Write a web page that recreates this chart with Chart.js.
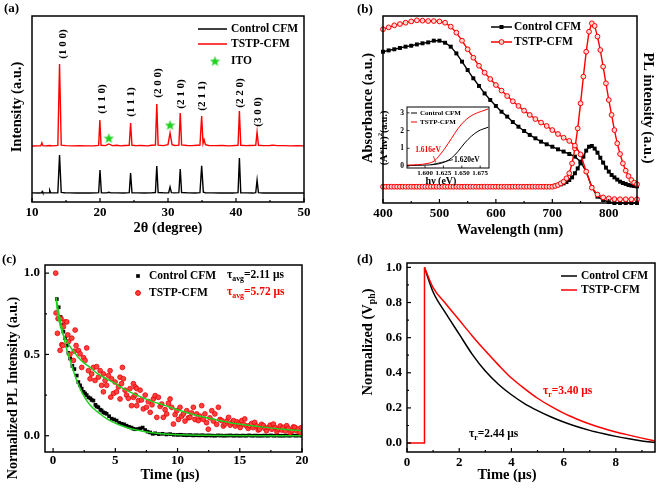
<!DOCTYPE html>
<html><head><meta charset="utf-8">
<script src="https://cdn.jsdelivr.net/npm/chart.js@4.4.1/dist/chart.umd.min.js"></script>
<style>
html,body{margin:0;padding:0;background:#fff}
body{position:relative;width:660px;height:489px;overflow:hidden}
canvas{position:absolute}
</style></head><body>
<canvas id="ca" width="330" height="245" style="left:0;top:0"></canvas>
<canvas id="cb" width="330" height="245" style="left:330px;top:0"></canvas>
<canvas id="cbi" width="130" height="92" style="left:378px;top:98px"></canvas>
<canvas id="cc" width="330" height="244" style="left:0;top:245px"></canvas>
<canvas id="cd" width="330" height="244" style="left:330px;top:245px"></canvas>
<script>
// ================= DATA =================
// (a) XRD
const xrdTicks = [10,20,30,40,50];
const xrdMinor = [15,25,35,45];
const ctrlXrdAngle = [10,11,11.4,11.5,11.6,12.0,12.5,12.6,12.75,13.0,13.8,14.05,14.3,14.8,15.5,16.5,17.5,18.5,19.5,19.8,20.0,20.2,21,21.3,21.6,22.5,23.5,24.3,24.5,24.7,25.5,26.5,27.5,28.15,28.35,28.55,29.5,30.1,30.3,30.5,31.0,31.6,31.8,32.0,33,34,34.7,34.95,35.2,35.5,36.5,37.5,38.5,39.5,40.3,40.5,40.7,41.5,42.5,42.9,43.1,43.3,44,45,46,47,48,49,50];
const ctrlXrdInt = [4.9,4.8,4.9,5.6,4.9,4.9,5.0,6.3,5.0,4.9,5.0,25.3,5.2,5.0,4.9,4.8,4.9,4.8,4.9,5.0,17.2,5.0,4.9,5.2,4.9,4.9,4.8,5.0,15.6,5.0,4.9,4.8,4.9,5.1,19.4,5.1,4.9,5.0,8.1,5.0,4.9,5.0,17.7,5.1,4.9,4.8,5.0,19.4,5.3,5.0,4.9,4.8,4.9,4.8,5.0,23.7,5.0,4.9,4.8,5.0,11.8,5.0,4.8,4.9,4.8,4.8,4.9,4.8,4.8];
const tstpXrdAngle = [10,11,11.3,11.45,11.6,12,12.6,13,13.8,14.05,14.3,15,16,17,18,19,19.8,19.98,20.15,20.8,21.3,21.8,22.5,23,23.6,24.3,24.5,24.7,25.3,26,27,27.6,28.15,28.35,28.55,29.3,30.0,30.3,30.6,31.0,31.6,31.8,32.0,32.8,33.5,34.3,34.7,34.95,35.15,35.3,35.5,36,37,38,39,40.3,40.5,40.7,41.5,42,42.9,43.1,43.3,44,45,45.5,46,47,48,49,50];
const tstpXrdInt = [30.1,30.2,30.2,31.8,30.3,30.2,30.4,30.2,30.4,74.2,30.6,30.3,30.2,30.3,30.2,30.2,30.4,44.1,30.5,30.3,31.2,30.3,30.5,30.2,30.4,30.5,42.5,30.5,30.3,30.4,30.2,30.5,30.6,52.7,30.6,30.3,30.8,37.1,30.8,30.4,30.6,47.8,30.7,30.4,30.3,30.5,30.6,46.2,31.5,33.5,30.8,30.4,30.3,30.4,30.2,30.5,48.9,30.5,30.3,30.4,30.5,37.6,30.5,30.3,30.4,30.6,30.3,30.3,30.2,30.3,30.2];
const itoAngle = [21.3, 30.3];
const itoLevel = [34.4, 41.4];
const peakLabels = ['(1 0 0)','(1 1 0)','(1 1 1)','(2 0 0)','(2 1 0)','(2 1 1)','(2 2 0)','(3 0 0)'];

// (b) absorbance & PL
const wlTicks = [400,500,600,700,800];
const wlMinor = [450,550,650,750];
const wlAbs = [400,410,420,430,440,450,460,470,480,490,500,510,520,530,540,550,560,570,580,590,600,610,620,630,640,650,660,670,680,690,700,710,720,730,740,750,760,770,780,790,800,810,820,830,840,850];
const ctrlAbs = [80.9,81.6,82.2,82.9,83.6,84.1,84.8,85.4,85.9,86.8,86.8,85.7,83.6,80.0,75.6,71.1,66.7,62.6,58.6,55.1,51.9,48.8,46.2,43.3,40.8,38.5,36.4,34.6,32.8,31.4,30.1,28.7,27.5,26.2,24.8,22.1,16.8,8.4,3.4,1.6,0.5,0,0,0,0,0];
const tstpAbs = [92.9,93.9,95.0,95.7,96.4,97.1,97.7,97.5,97.3,97.3,97.1,96.4,94.3,91.1,86.8,82.2,77.7,73.4,69.7,66.3,63.1,60.1,57.2,54.4,51.9,49.4,47.1,44.9,43.0,41.2,39.0,36.9,34.9,33.2,30.7,26.0,16.8,8.2,4.5,3.0,2.5,2.1,2.0,2.0,2.0,2.0];
const wlPL = [400,405,410,415,420,425,430,435,440,445,450,455,460,465,470,475,480,485,490,495,500,505,510,515,520,525,530,535,540,545,550,555,560,565,570,575,580,585,590,595,600,605,610,615,620,625,630,635,640,645,650,655,660,665,670,675,680,685,690,695,700,705,710,715,720,725,730,735,740,745,750,755,760,765,770,775,780,785,790,795,800,805,810,815,820,825,830,835,840,845,850];
const ctrlPL = [8.7,8.7,8.7,8.7,8.7,8.7,8.7,8.7,8.7,8.7,
  8.7,8.7,8.7,8.7,8.7,8.7,8.7,8.7,8.7,8.7,
  8.7,8.7,8.7,8.7,8.7,8.7,8.7,8.7,8.7,8.7,
  8.7,8.7,8.7,8.7,8.7,8.7,8.7,8.7,8.7,8.7,
  8.7,8.7,8.7,8.7,8.7,8.7,8.7,8.7,8.7,8.7,
  8.7,8.7,8.7,8.7,8.7,8.7,8.7,8.7,8.7,
  8.9,9.1,9.3,9.6,10.0,10.5,11.2,12.3,13.7,15.9,18.5,21.2,24.8,28.0,30.1,30.5,29.1,26.9,24.2,21.6,18.9,16.8,15.0,13.7,12.5,11.4,10.7,10.2,9.6,9.3,9.1,8.9];
const tstpPL = [8.7,8.7,8.7,8.7,8.7,8.7,8.7,8.7,8.7,8.7,
  8.7,8.7,8.7,8.7,8.7,8.7,8.7,8.7,8.7,8.7,
  8.7,8.7,8.7,8.7,8.7,8.7,8.7,8.7,8.7,8.7,
  8.7,8.7,8.7,8.7,8.7,8.7,8.7,8.7,8.7,8.7,
  8.7,8.7,8.7,8.7,8.7,8.7,8.7,8.7,8.7,8.7,
  8.7,8.7,8.7,8.7,8.7,8.7,8.7,8.7,8.7,8.7,8.7,
  9.1,9.6,10.5,11.4,13.2,15.9,21.2,29.2,39.9,53.3,67.6,80.9,91.6,96.1,94.7,89.0,81.8,72.9,64.0,55.1,47.1,39.0,31.9,26.2,21.2,17.3,14.4,12.3,10.9,10.0];
// (b) inset Tauc plot
const insetETicks = [1.600,1.625,1.650,1.675];
const insetYTicks = [0,1,2,3];
const tstpE = [1.5755,1.590,1.604,1.613,1.620,1.627,1.636,1.645,1.654,1.6655,1.677,1.686];
const tstpAhv = [0.05,0.08,0.15,0.30,0.62,1.0,1.56,2.12,2.55,2.9,3.09,3.22];
const ctrlE = [1.5755,1.590,1.604,1.618,1.627,1.636,1.645,1.654,1.663,1.672,1.679,1.686];
const ctrlAhv = [0.03,0.04,0.06,0.12,0.23,0.45,0.83,1.3,1.68,1.96,2.09,2.19];
const ctrlOnsetE = [1.608,1.638];
const ctrlOnsetY = [0.07,0.36];
const tstpOnsetE = [1.6115,1.6145];
const tstpOnsetY = [0.55,0.2];

// (c) TRPL
const trTicksX = [0,5,10,15,20];
const trMinorX = [2.5,7.5,12.5,17.5];
const trTicksY = [0,0.5,1.0];
const trMinorY = [0.25,0.75];
const ctrlTime = [0.3,0.45,0.6,0.7,0.83,0.96,1.1,1.23,1.37,1.55,1.71,1.9,2.03,2.17,2.3,2.45,2.57,2.7,2.84,3.0,3.1,3.24,3.4,3.5,3.64,3.8,3.9,4.04,4.17,4.3,4.5,4.7,4.9,5.1,5.3,5.5,5.7,5.9,6.1,6.3,6.45,6.6,6.86,7.0,7.2,7.4,7.6,7.8,8.0,8.2,8.5,8.8,9.1,9.4,9.7,
  10.0,10.25,10.5,10.75,11.0,11.25,11.5,11.75,12.0,12.25,12.5,12.75,13.0,13.25,13.5,13.75,14.0,14.25,14.5,14.75,15.0,15.25,15.5,15.75,16.0,16.25,16.5,16.75,17.0,17.25,17.5,17.75,18.0,18.25,18.5,18.75,19.0,19.25,19.5,19.75,20.0];
const ctrlDecay = [0.84,0.79,0.73,0.68,0.64,0.60,0.555,0.51,0.475,0.43,0.41,0.37,0.33,0.31,0.29,0.27,0.26,0.25,0.236,0.23,0.22,0.216,0.19,0.18,0.175,0.16,0.155,0.144,0.14,0.135,0.12,0.105,0.10,0.093,0.08,0.074,0.07,0.062,0.055,0.05,0.043,0.04,0.041,0.045,0.05,0.035,0.025,0.02,0.012,0.015,0.01,0.012,0.008,0.01,0.006,
  0.005,0.006,0.004,0.003,0.004,0.002,0.003,0.002,0.003,0.001,0.002,0.001,0.0,0.002,0.001,0.0,0.001,0.002,0.0,0.001,0.0,0.001,0.0,0.002,0.0,0.001,0.0,0.0,0.001,0.0,0.002,0.0,0.001,0.0,0.0,0.001,0.0,0.002,0.0,0.001,0.0];
const tstpTime = [0.21,0.24,0.35,0.4,0.56,0.64,0.7,0.78,0.83,0.95,1.1,1.18,1.25,1.35,1.5,1.63,1.7,1.77,1.85,2.03,2.17,2.3,2.45,2.57,2.7,2.84,2.97,3.1,3.24,3.37,3.5,3.64,3.78,3.9,4.04,4.04,4.18,4.3,4.45,4.58,4.63,4.7,4.85,4.98,5.1,5.25,5.38,5.38,5.5,5.57,5.65,5.78,5.9,6.05,6.18,6.3,6.45,6.45,6.6,6.6,6.72,6.72,6.86,6.99,7.1,7.25,7.4,7.5,7.65,7.8,7.95,8.05,8.2,8.33,8.46,8.6,8.73,8.86,9.0,9.13,9.27,9.4,9.53,9.67,9.8,9.94,10.07,10.2,10.33,10.47,10.6,10.74,10.87,11.0,11.13,11.27,11.4,11.54,11.67,11.8,11.94,12.07,12.2,12.33,12.47,12.6,12.75,12.88,13.0,13.14,13.28,13.41,13.55,13.68,13.82,13.95,14.1,14.23,14.37,14.5,14.64,14.77,14.9,15.03,15.16,15.3,15.4,15.55,15.68,15.8,15.95,16.08,16.2,16.35,16.48,16.6,16.75,16.9,17.02,17.15,17.3,17.45,17.58,17.7,17.85,17.98,18.1,18.25,18.38,18.5,18.65,18.77,18.9,19.05,19.2,19.32,19.44,19.57,19.7,19.85,19.95];
const tstpDecay = [1.0,0.755,0.63,0.72,0.525,0.72,0.56,0.555,0.67,0.70,0.70,0.62,0.58,0.50,0.60,0.463,0.52,0.65,0.555,0.525,0.504,0.42,0.48,0.463,0.54,0.40,0.35,0.38,0.42,0.34,0.425,0.36,0.40,0.31,0.38,0.27,0.34,0.31,0.37,0.40,0.237,0.35,0.26,0.33,0.27,0.30,0.36,0.226,0.32,0.42,0.35,0.28,0.25,0.23,0.29,0.185,0.32,0.236,0.30,0.25,0.185,0.29,0.216,0.28,0.22,0.165,0.25,0.175,0.21,0.144,0.19,0.226,0.247,0.113,0.236,0.18,0.195,0.113,0.16,0.134,0.2,0.226,0.175,0.072,0.13,0.154,0.1,0.175,0.12,0.134,0.09,0.154,0.11,0.113,0.14,0.175,0.1,0.134,0.093,0.12,0.185,0.1,0.134,0.08,0.04,0.11,0.154,0.09,0.134,0.07,0.175,0.1,0.093,0.06,0.072,0.09,0.113,0.065,0.08,0.093,0.06,0.085,0.072,0.05,0.093,0.07,0.103,0.06,0.045,0.062,0.075,0.05,0.082,0.06,0.035,0.041,0.07,0.062,0.045,0.03,0.051,0.065,0.04,0.072,0.05,0.025,0.041,0.06,0.035,0.051,0.03,0.062,0.045,0.02,0.031,0.055,0.051,0.03,0.041,0.02,0.05];
const ctrlFitTime = [0.24,0.5,0.83,1.1,1.37,1.9,2.3,2.7,3.2,3.78,4.3,4.85,5.9,7,8,9,10.2,12,14,17,20];
const ctrlFit = [0.85,0.74,0.617,0.53,0.463,0.34,0.27,0.216,0.17,0.134,0.105,0.082,0.051,0.031,0.018,0.01,0.006,0.003,0.001,0.0,0.0];
const tstpFitTime = [0.24,0.4,0.6,0.83,1.1,1.63,2.3,2.97,3.6,4.3,5,5.65,6.86,8,8.86,10,11.54,13,14.2,15.5,16.9,18.5,20];
const tstpFit = [0.84,0.74,0.67,0.62,0.58,0.52,0.46,0.42,0.38,0.35,0.32,0.29,0.245,0.21,0.19,0.16,0.125,0.1,0.08,0.066,0.053,0.04,0.031];

// (d) TPV
const tpvTicksX = [0,2,4,6,8];
const tpvMinorX = [1,3,5,7,9];
const tpvTicksY = [0,0.2,0.4,0.6,0.8,1.0];
const tpvMinorY = [0.1,0.3,0.5,0.7,0.9];
const stepTime = [0,0.67,0.67];
const stepVph = [0,0,1.0];
const tpvTime = [0.67,1.0,1.5,2.0,2.5,3.0,3.5,4.0,4.5,5.0,5.5,6.0,6.5,7.0,7.5,8.0,8.5,9.0,9.5];
const ctrlVph = [1.0,0.86,0.735,0.62,0.505,0.41,0.335,0.275,0.225,0.185,0.15,0.12,0.094,0.072,0.054,0.038,0.024,0.012,0.003];
const tstpVph = [1.0,0.885,0.79,0.70,0.61,0.525,0.445,0.37,0.31,0.255,0.21,0.17,0.137,0.108,0.084,0.063,0.045,0.028,0.012];

// ================= HELPERS =================
const F = '"Liberation Serif","Times New Roman",serif';
const RED = '#ff0000', GREEN = '#1fd11f';
Chart.defaults.font.family = F;
Chart.defaults.font.weight = 'bold';
Chart.defaults.color = '#000';
Chart.defaults.animation = false;
Chart.defaults.plugins.legend.display = false;
Chart.defaults.plugins.tooltip.enabled = false;
const pts = (xs, ys) => xs.map((x, i) => ({x, y: ys[i]}));
const fnt = s => `bold ${s}px ${F}`;

function rich(ctx, t){
  const sz = t.size || 12;
  const parts = t.parts || [[t.text, 'n']];
  ctx.save();
  ctx.translate(t.x, t.y); if (t.rot) ctx.rotate(t.rot);
  ctx.fillStyle = t.color || '#000'; ctx.textBaseline = 'middle'; ctx.textAlign = 'left';
  let w = 0; const ws = [];
  parts.forEach(p => { ctx.font = fnt(p[1] === 'n' ? sz : sz*0.68); const m = ctx.measureText(p[0]).width; ws.push(m); w += m; });
  let x = t.align === 'left' ? 0 : (t.align === 'right' ? -w : -w/2);
  parts.forEach((p, i) => {
    ctx.font = fnt(p[1] === 'n' ? sz : sz*0.68);
    const dy = p[1] === 'sub' ? sz*0.32 : (p[1] === 'sup' ? -sz*0.35 : 0);
    ctx.fillText(p[0], x, dy); x += ws[i];
  });
  ctx.restore();
}
function marker(ctx, type, x, y, r, fill, stroke){
  ctx.save(); ctx.fillStyle = fill; ctx.strokeStyle = stroke; ctx.lineWidth = 1;
  if (type === 'rect'){ const s = r*Math.SQRT1_2; ctx.fillRect(x-s, y-s, 2*s, 2*s); }
  else { ctx.beginPath(); ctx.arc(x, y, r, 0, Math.PI*2); ctx.fill(); ctx.stroke(); }
  ctx.restore();
}
function starCanvas(size, color){
  const c = document.createElement('canvas'); c.width = c.height = size;
  const g = c.getContext('2d'); g.fillStyle = color; g.beginPath();
  const cx = size/2, cy = size/2+0.5, R = size/2, r = R*0.42;
  for (let i = 0; i < 10; i++){ const a = -Math.PI/2 + i*Math.PI/5, rr = i%2 ? r : R; g.lineTo(cx+rr*Math.cos(a), cy+rr*Math.sin(a)); }
  g.closePath(); g.fill(); return c;
}
const STAR = starCanvas(11, GREEN);

function scale(o){
  return {type:'linear', position:o.pos, min:o.min, max:o.max, display:o.display !== false,
    grid:{display:false, drawTicks:false}, border:{display:false},
    ticks:{display:!!o.show, color:'#000', padding:o.pad == null ? 2 : o.pad,
      font:{family:F, size:o.fs || 12, weight:'bold'}, maxRotation:0, minRotation:0, autoSkip:false, includeBounds:false,
      callback:(v) => o.fmt ? o.fmt(v) : String(v)},
    afterBuildTicks:s => { if (o.ticks) s.ticks = o.ticks.map(v => ({value:v})); },
    afterFit:s => { if (o.size != null){ if (s.isHorizontal()) s.height = o.size; else s.width = o.size; } }
  };
}
function drawLegend(ctx, l){
  ctx.save();
  if (l.x1 != null){ ctx.strokeStyle = l.color; ctx.lineWidth = l.lw || 1.5; ctx.beginPath(); ctx.moveTo(l.x1, l.y); ctx.lineTo(l.x2, l.y); ctx.stroke(); }
  if (l.marker) marker(ctx, l.marker, l.mx, l.y, l.r, l.fill, l.color);
  if (l.img) ctx.drawImage(l.img, l.mx - l.img.width/2, l.y - l.img.height/2);
  ctx.restore();
  rich(ctx, {text:l.text, x:l.tx, y:l.y, size:l.size || 11.5, align:'left', color:l.tcolor || '#000'});
}
function decor(spec){
  return {id:'decor', afterDraw(chart){
    const ctx = chart.ctx, a = chart.chartArea, xs = chart.scales.x, ys = chart.scales.y;
    ctx.save();
    ctx.strokeStyle = '#000'; ctx.lineWidth = spec.lw || 1.5;
    ctx.strokeRect(a.left, a.top, a.right - a.left, a.bottom - a.top);
    ctx.lineWidth = spec.tw || 1.2;
    const L = spec.len || 4;
    const tk = (list, len, axis) => (list || []).forEach(v => {
      ctx.beginPath();
      if (axis === 'x'){ const p = xs.getPixelForValue(v); ctx.moveTo(p, a.bottom); ctx.lineTo(p, a.bottom - len); }
      else { const p = ys.getPixelForValue(v); ctx.moveTo(a.left, p); ctx.lineTo(a.left + len, p); }
      ctx.stroke();
    });
    tk(spec.xMajor, L, 'x'); tk(spec.xMinor, L/2, 'x'); tk(spec.yMajor, L, 'y'); tk(spec.yMinor, L/2, 'y');
    ctx.restore();
    (spec.legend || []).forEach(l => drawLegend(ctx, l));
    (spec.texts || []).forEach(t => rich(ctx, t));
  }};
}
const HP = Math.PI/2;

// ================= (a) =================
new Chart(document.getElementById('ca'), {
  type:'scatter',
  data:{datasets:[
    {data:pts(itoAngle, itoLevel), pointStyle:STAR, pointRadius:5, showLine:false},
    {data:pts(tstpXrdAngle, tstpXrdInt), showLine:true, borderColor:RED, borderWidth:1.4, pointRadius:0, tension:0},
    {data:pts(ctrlXrdAngle, ctrlXrdInt), showLine:true, borderColor:'#000', borderWidth:1.4, pointRadius:0, tension:0}
  ]},
  options:{responsive:false, devicePixelRatio:1,
    layout:{padding:{left:0, top:16, right:26, bottom:0}},
    scales:{
      x:scale({pos:'bottom', min:10, max:50, ticks:xrdTicks, size:43, show:true, fs:13, pad:3}),
      y:scale({pos:'left', min:0, max:100, ticks:[], size:32, show:false})
    }},
  plugins:[decor({xMajor:xrdTicks, xMinor:xrdMinor,
    legend:[
      {x1:198, x2:227, y:29, color:'#000', text:'Control CFM', tx:231},
      {x1:198, x2:227, y:44, color:RED, text:'TSTP-CFM', tx:231},
      {img:STAR, mx:215, y:61, text:'ITO', tx:231}
    ],
    texts:[
      {text:'(a)', x:4, y:9, size:13, align:'left'},
      {text:'Intensity (a.u.)', x:17, y:107, rot:-HP, size:14.5},
      {text:'2θ (degree)', x:168, y:228, size:14.5},
      {text:peakLabels[0], x:63, y:44, rot:-HP, size:11},
      {text:peakLabels[1], x:102, y:99, rot:-HP, size:11},
      {text:peakLabels[2], x:131, y:102, rot:-HP, size:11},
      {text:peakLabels[3], x:158, y:83, rot:-HP, size:11},
      {text:peakLabels[4], x:181, y:94, rot:-HP, size:11},
      {text:peakLabels[5], x:202, y:96, rot:-HP, size:11},
      {text:peakLabels[6], x:240, y:93, rot:-HP, size:11},
      {text:peakLabels[7], x:258, y:112, rot:-HP, size:11}
    ]})]
});

// ================= (b) =================
new Chart(document.getElementById('cb'), {
  type:'scatter',
  data:{datasets:[
    {data:pts(wlAbs, tstpAbs), showLine:true, borderColor:RED, borderWidth:1.4, pointStyle:'circle', pointRadius:2.4, pointBorderWidth:1, pointBorderColor:RED, pointBackgroundColor:'#ffd6d6', yAxisID:'y', clip:4},
    {data:pts(wlPL, tstpPL), showLine:true, borderColor:RED, borderWidth:1.4, pointStyle:'circle', pointRadius:2.4, pointBorderWidth:1, pointBorderColor:RED, pointBackgroundColor:'#ffd6d6', yAxisID:'y1', clip:4},
    {data:pts(wlAbs, ctrlAbs), showLine:true, borderColor:'#000', borderWidth:1.4, pointStyle:'rect', pointRadius:2.8, pointBorderWidth:0, pointBackgroundColor:'#000', yAxisID:'y', clip:4},
    {data:pts(wlPL, ctrlPL), showLine:true, borderColor:'#000', borderWidth:1.4, pointStyle:'rect', pointRadius:2.8, pointBorderWidth:0, pointBackgroundColor:'#000', yAxisID:'y1', clip:4}
  ]},
  options:{responsive:false, devicePixelRatio:1,
    layout:{padding:{left:0, top:16, right:23, bottom:0}},
    scales:{
      x:scale({pos:'bottom', min:400, max:850, ticks:wlTicks, size:42, show:true, fs:13, pad:3}),
      y:scale({pos:'left', min:0, max:100, ticks:[], size:53, show:false}),
      y1:scale({pos:'right', min:0, max:100, ticks:[], display:false})
    }},
  plugins:[decor({xMajor:wlTicks, xMinor:wlMinor,
    legend:[
      {x1:161, x2:182, y:27, color:'#000', marker:'rect', mx:171.5, r:2.8, fill:'#000', text:'Control CFM', tx:184},
      {x1:161, x2:182, y:42, color:RED, marker:'circle', mx:171.5, r:2.4, fill:'#ffd6d6', text:'TSTP-CFM', tx:184}
    ],
    texts:[
      {text:'(b)', x:27, y:10, size:13, align:'left'},
      {text:'Absorbance (a.u.)', x:38, y:108, rot:-HP, size:14.5},
      {text:'PL intensity (a.u.)', x:318, y:108, rot:HP, size:14.5},
      {text:'Wavelength (nm)', x:180, y:230, size:14.5}
    ]})]
});

// ================= (b) inset =================
new Chart(document.getElementById('cbi'), {
  type:'scatter',
  data:{datasets:[
    {data:pts(tstpE, tstpAhv), showLine:true, borderColor:RED, borderWidth:1, pointRadius:0, cubicInterpolationMode:'monotone'},
    {data:pts(ctrlE, ctrlAhv), showLine:true, borderColor:'#000', borderWidth:1, pointRadius:0, cubicInterpolationMode:'monotone'},
    {data:pts(ctrlOnsetE, ctrlOnsetY), showLine:true, borderColor:'#000', borderWidth:0.8, pointRadius:0, tension:0},
    {data:pts(tstpOnsetE, tstpOnsetY), showLine:true, borderColor:RED, borderWidth:0.8, pointRadius:0, tension:0}
  ]},
  options:{responsive:false, devicePixelRatio:1,
    layout:{padding:{left:0, top:9, right:19, bottom:0}},
    scales:{
      x:scale({pos:'bottom', min:1.5755, max:1.687, ticks:insetETicks, size:22, show:true, fs:7, pad:1, fmt:v => v.toFixed(3)}),
      y:scale({pos:'left', min:-0.11, max:3.33, ticks:insetYTicks, size:29, show:true, fs:7.5, pad:3})
    }},
  plugins:[decor({lw:1, tw:0.8, len:2.5, xMajor:insetETicks, yMajor:insetYTicks,
    legend:[
      {x1:33, x2:39, y:15, color:'#000', lw:1, text:'Control CFM', tx:42, size:7},
      {x1:33, x2:39, y:24, color:RED, lw:1, text:'TSTP-CFM', tx:42, size:7}
    ],
    texts:[
      {parts:[['(A*hν)','n'],['2','sup'],['(a.u.)','n']], x:6, y:40, rot:-HP, size:10},
      {text:'hν (eV)', x:63, y:83, size:10},
      {text:'1.616eV', x:50, y:52, size:7.5, color:RED},
      {text:'1.620eV', x:76, y:62, size:7.5, align:'left'}
    ]})]
});

// ================= (c) =================
new Chart(document.getElementById('cc'), {
  type:'scatter',
  data:{datasets:[
    {data:pts(tstpFitTime, tstpFit), showLine:true, borderColor:GREEN, borderWidth:1.5, pointRadius:0, cubicInterpolationMode:'monotone'},
    {data:pts(ctrlFitTime, ctrlFit), showLine:true, borderColor:GREEN, borderWidth:1.5, pointRadius:0, cubicInterpolationMode:'monotone'},
    {data:pts(tstpTime, tstpDecay), showLine:false, pointStyle:'circle', pointRadius:2.4, pointBorderWidth:0.8, pointBorderColor:'#e80000', pointBackgroundColor:'#ff4040'},
    {data:pts(ctrlTime, ctrlDecay), showLine:false, pointStyle:'rect', pointRadius:2.6, pointBorderWidth:0, pointBackgroundColor:'#000'}
  ]},
  options:{responsive:false, devicePixelRatio:1,
    layout:{padding:{left:0, top:20, right:28, bottom:0}},
    scales:{
      x:scale({pos:'bottom', min:-0.65, max:20, ticks:trTicksX, size:37, show:true, fs:13, pad:1}),
      y:scale({pos:'left', min:-0.1, max:1.05, ticks:trTicksY, size:45, show:true, fs:13, pad:5, fmt:v => v.toFixed(1)})
    }},
  plugins:[decor({xMajor:trTicksX, xMinor:trMinorX, yMajor:trTicksY, yMinor:trMinorY,
    legend:[
      {marker:'rect', mx:138, y:31, r:2.6, fill:'#000', color:'#000', text:'Control CFM', tx:149},
      {marker:'circle', mx:138, y:48, r:2.4, fill:'#ff4040', color:'#e80000', text:'TSTP-CFM', tx:149}
    ],
    texts:[
      {text:'(c)', x:2, y:15, size:13, align:'left'},
      {text:'Normalized PL Intensity (a.u.)', x:13, y:143, rot:-HP, size:14},
      {text:'Time (μs)', x:170, y:230, size:14.5},
      {parts:[['τ','n'],['avg','sub'],['=2.11 μs','n']], x:227, y:30, size:11.5, align:'left'},
      {parts:[['τ','n'],['avg','sub'],['=5.72 μs','n']], x:227, y:47, size:11.5, align:'left', color:RED}
    ]})]
});

// ================= (d) =================
new Chart(document.getElementById('cd'), {
  type:'scatter',
  data:{datasets:[
    {data:pts(stepTime, stepVph), showLine:true, borderColor:RED, borderWidth:1.5, pointRadius:0, tension:0},
    {data:pts(tpvTime, tstpVph), showLine:true, borderColor:RED, borderWidth:1.5, pointRadius:0, cubicInterpolationMode:'monotone'},
    {data:pts(tpvTime, ctrlVph), showLine:true, borderColor:'#000', borderWidth:1.5, pointRadius:0, cubicInterpolationMode:'monotone'}
  ]},
  options:{responsive:false, devicePixelRatio:1,
    layout:{padding:{left:0, top:18, right:5, bottom:0}},
    scales:{
      x:scale({pos:'bottom', min:0, max:9.5, ticks:tpvTicksX, size:37, show:true, fs:13, pad:3}),
      y:scale({pos:'left', min:-0.051, max:1.025, ticks:tpvTicksY, size:77, show:true, fs:13, pad:5, fmt:v => v.toFixed(1)})
    }},
  plugins:[decor({xMajor:tpvTicksX, xMinor:tpvMinorX, yMajor:tpvTicksY, yMinor:tpvMinorY,
    legend:[
      {x1:231, x2:247, y:31, color:'#000', text:'Control CFM', tx:251},
      {x1:231, x2:247, y:45, color:RED, text:'TSTP-CFM', tx:251}
    ],
    texts:[
      {text:'(d)', x:27, y:15, size:13, align:'left'},
      {parts:[['Normalized (V','n'],['ph','sub'],[')','n']], x:38, y:97, rot:-HP, size:14.5},
      {text:'Time (μs)', x:177, y:230, size:14.5},
      {parts:[['τ','n'],['r','sub'],['=2.44 μs','n']], x:139, y:189, size:11.5, align:'left'},
      {parts:[['τ','n'],['r','sub'],['=3.40 μs','n']], x:213, y:146, size:11.5, align:'left', color:RED}
    ]})]
});
</script>
</body></html>
